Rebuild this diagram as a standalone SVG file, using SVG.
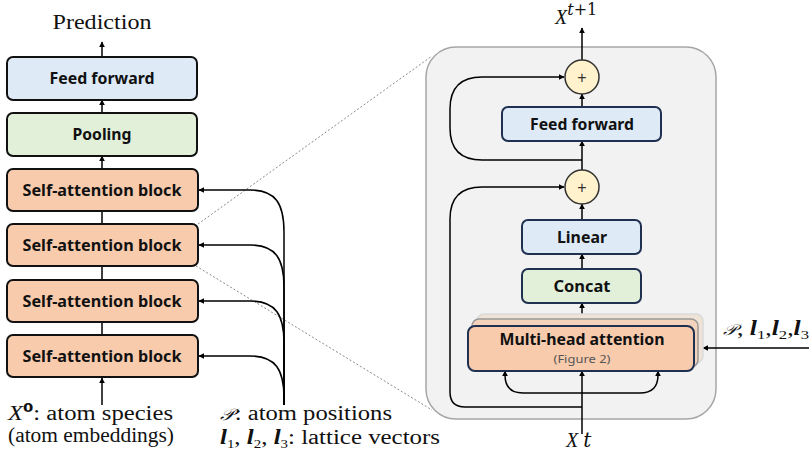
<svg xmlns="http://www.w3.org/2000/svg" width="809" height="452" viewBox="0 0 809 452">
<defs>
<marker id="ah" viewBox="0 0 10 10" refX="9" refY="5" markerWidth="6" markerHeight="6" orient="auto" markerUnits="userSpaceOnUse">
<path d="M0,0 L10,5 L0,10 z" fill="#000"/>
</marker>
<style>
.lbl{font-family:"Noto Sans","Liberation Sans",sans-serif;font-weight:bold;font-size:16px;fill:#111;text-anchor:middle}
.math{font-family:"Liberation Serif","DejaVu Serif",serif;font-size:20px;fill:#111}
.lb{stroke:#111;stroke-width:2}
.rb{stroke:#1F3050;stroke-width:2}
.orange{fill:#F8CBAD}
.blue{fill:#DEEBF7}
.green{fill:#E2F0D9}
.con{fill:none;stroke:#000;stroke-width:1.5}
.arr{marker-end:url(#ah)}
.dot{fill:none;stroke:#8a8a8a;stroke-width:1;stroke-dasharray:2,2}
</style>
</defs>
<rect width="809" height="452" fill="#fff"/>

<g id="panel">
<rect x="426" y="47" width="290" height="372" rx="30" fill="#F2F2F2" stroke="#A6A6A6" stroke-width="1.5"/>
</g>

<g id="connectors">
<line class="dot" x1="198" y1="224" x2="432" y2="56"/>
<line class="dot" x1="196" y1="266" x2="432" y2="410"/>
<line class="con arr" x1="102" y1="57" x2="102" y2="42"/>
<line class="con arr" x1="102" y1="113" x2="102" y2="100"/>
<line class="con arr" x1="102" y1="169" x2="102" y2="156"/>
<line class="con" x1="102" y1="211" x2="102" y2="224"/>
<line class="con" x1="102" y1="266" x2="102" y2="280"/>
<line class="con" x1="102" y1="322" x2="102" y2="335"/>
<line class="con arr" x1="102" y1="405" x2="102" y2="378"/>
<path class="con arr" d="M284,405 V232 C284,204 276,190 250,190 H199"/>
<path class="con arr" d="M284,405 V287 C284,259 276,245 250,245 H199"/>
<path class="con arr" d="M284,405 V343 C284,315 276,301 250,301 H199"/>
<path class="con arr" d="M284,405 V398 C284,370 276,356 250,356 H199"/>

<line class="con arr" x1="582" y1="60" x2="582" y2="28"/>
<line class="con arr" x1="582" y1="107" x2="582" y2="94"/>
<line class="con arr" x1="582" y1="170" x2="582" y2="141"/>
<path class="con arr" d="M582,160 H482 Q450,160 450,128 V109 Q450,77 482,77 H564"/>
<line class="con arr" x1="582" y1="220" x2="582" y2="204"/>
<line class="con arr" x1="582" y1="269" x2="582" y2="254"/>
<line class="con arr" x1="582" y1="314" x2="582" y2="303"/>
<line class="con arr" x1="582" y1="434" x2="582" y2="371"/>
<path class="con arr" d="M582,393 H523 Q505,393 505,375 V371"/>
<path class="con arr" d="M582,393 H640 Q658,393 658,375 V371"/>
<path class="con arr" d="M582,407 H465 Q450,407 450,392 V219 Q450,187 482,187 H564"/>
<line class="con arr" x1="809" y1="348" x2="703" y2="348"/>
</g>

<g id="ff-left">
<rect class="lb blue" x="7" y="57" width="190" height="43" rx="6"/>
<text class="lbl" x="102" y="84" textLength="105" lengthAdjust="spacingAndGlyphs">Feed forward</text>
</g>
<g id="pooling">
<rect class="lb green" x="7" y="113" width="190" height="43" rx="6"/>
<text class="lbl" x="102" y="140" textLength="59" lengthAdjust="spacingAndGlyphs">Pooling</text>
</g>
<g id="sa1">
<rect class="lb orange" x="7" y="169" width="191" height="42" rx="6"/>
<text class="lbl" x="102" y="196" textLength="159" lengthAdjust="spacingAndGlyphs">Self-attention block</text>
</g>
<g id="sa2">
<rect class="lb orange" x="7" y="224" width="191" height="42" rx="6"/>
<text class="lbl" x="102" y="251" textLength="159" lengthAdjust="spacingAndGlyphs">Self-attention block</text>
</g>
<g id="sa3">
<rect class="lb orange" x="7" y="280" width="191" height="42" rx="6"/>
<text class="lbl" x="102" y="307" textLength="159" lengthAdjust="spacingAndGlyphs">Self-attention block</text>
</g>
<g id="sa4">
<rect class="lb orange" x="7" y="335" width="191" height="42" rx="6"/>
<text class="lbl" x="102" y="362" textLength="159" lengthAdjust="spacingAndGlyphs">Self-attention block</text>
</g>

<g id="prediction">
<text class="math" x="102" y="29" font-size="21" text-anchor="middle" textLength="99" lengthAdjust="spacingAndGlyphs">Prediction</text>
</g>
<g id="input-x0">
<text class="math" x="8" y="420" textLength="165" lengthAdjust="spacingAndGlyphs"><tspan font-style="italic">X</tspan><tspan font-size="12" dy="-8" font-weight="bold" font-family="DejaVu Sans">0</tspan><tspan dy="8">: atom species</tspan></text>
<text class="math" x="8" y="442" textLength="166" lengthAdjust="spacingAndGlyphs">(atom embeddings)</text>
</g>
<g id="input-p">
<text class="math" x="220" y="420" textLength="172" lengthAdjust="spacingAndGlyphs"><tspan font-family="DejaVu Serif" font-style="italic" font-size="16">𝒫</tspan>: atom positions</text>
<text class="math" x="220" y="444" textLength="220" lengthAdjust="spacingAndGlyphs"><tspan font-weight="bold" font-style="italic">l</tspan><tspan font-size="12" dy="4">1</tspan><tspan dy="-4">, </tspan><tspan font-weight="bold" font-style="italic">l</tspan><tspan font-size="12" dy="4">2</tspan><tspan dy="-4">, </tspan><tspan font-weight="bold" font-style="italic">l</tspan><tspan font-size="12" dy="4">3</tspan><tspan dy="-4">: lattice vectors</tspan></text>
</g>

<g id="add-top">
<circle cx="582" cy="77" r="17" fill="#FFF2CC" stroke="#333" stroke-width="1.5"/>
<text x="582" y="82.5" text-anchor="middle" font-family="Liberation Sans,sans-serif" font-size="16" fill="#333">+</text>
</g>
<g id="ff-right">
<rect class="rb blue" x="502" y="107" width="159" height="34" rx="6"/>
<text class="lbl" x="582" y="130" textLength="104" lengthAdjust="spacingAndGlyphs">Feed forward</text>
</g>
<g id="add-bottom">
<circle cx="582" cy="187" r="17" fill="#FFF2CC" stroke="#333" stroke-width="1.5"/>
<text x="582" y="192.5" text-anchor="middle" font-family="Liberation Sans,sans-serif" font-size="16" fill="#333">+</text>
</g>
<g id="linear">
<rect class="rb blue" x="522" y="220" width="119" height="34" rx="6"/>
<text class="lbl" x="582" y="243" textLength="50" lengthAdjust="spacingAndGlyphs">Linear</text>
</g>
<g id="concat">
<rect class="rb green" x="522" y="269" width="119" height="34" rx="6"/>
<text class="lbl" x="582" y="292" textLength="57" lengthAdjust="spacingAndGlyphs">Concat</text>
</g>
<g id="mha">
<rect x="477" y="314" width="226" height="49" rx="7" fill="#EFE3D5" stroke="#DADADA" stroke-width="1.5"/>
<rect x="472" y="319" width="226" height="48" rx="7" fill="#F3D3BC" stroke="#999" stroke-width="1.5"/>
<rect class="rb orange" x="468" y="326" width="226" height="45" rx="7"/>
<text class="lbl" x="582" y="345" textLength="165" lengthAdjust="spacingAndGlyphs">Multi-head attention</text>
<text x="582" y="363" text-anchor="middle" font-family="Noto Sans,Liberation Sans,sans-serif" font-size="11" fill="#555" textLength="57" lengthAdjust="spacingAndGlyphs">(Figure 2)</text>
</g>

<g id="output-xt1">
<text class="math" x="555" y="24" font-size="24"><tspan font-style="italic">X</tspan><tspan font-size="16" dy="-9" font-family="DejaVu Serif" font-style="italic">t</tspan><tspan font-size="16" font-family="DejaVu Serif">+1</tspan></text>
</g>
<g id="input-xt">
<text class="math" x="566" y="447" font-size="23" font-style="italic">X<tspan dx="5" font-family="DejaVu Serif" font-size="20">t</tspan></text>
</g>
<g id="input-pl">
<text class="math" x="723" y="335" font-size="19" textLength="86" lengthAdjust="spacingAndGlyphs"><tspan font-family="DejaVu Serif" font-style="italic" font-size="15">𝒫</tspan>, <tspan font-weight="bold" font-style="italic">l</tspan><tspan font-size="13" dy="4">1</tspan><tspan dy="-4">,</tspan><tspan font-weight="bold" font-style="italic">l</tspan><tspan font-size="13" dy="4">2</tspan><tspan dy="-4">,</tspan><tspan font-weight="bold" font-style="italic">l</tspan><tspan font-size="13" dy="4">3</tspan></text>
</g>
</svg>
